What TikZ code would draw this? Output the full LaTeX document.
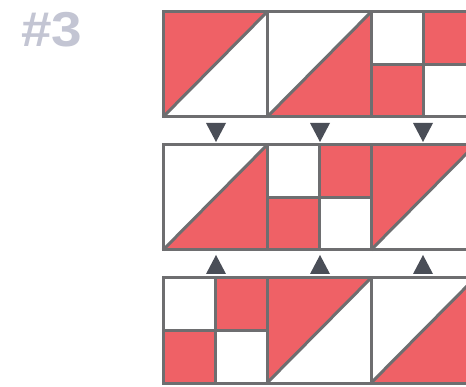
\documentclass[tikz,border=0pt]{standalone}
\usepackage{fontspec}
\setmainfont{Liberation Sans}
\definecolor{pred}{HTML}{EF6166}
\definecolor{pgray}{HTML}{6E6E70}
\definecolor{parrow}{HTML}{4A4E57}
\definecolor{ptext}{HTML}{C3C5D3}
\tikzset{
  redfill/.style={fill=pred},
  edge/.style={draw=pgray,line width=3pt,line join=miter},
  tri/.style={fill=parrow},
  ul/.pic={
    \fill[redfill] (0,0) -- (104,0) -- (0,105) -- cycle;
    \draw[edge] (0,0) rectangle (104,105);
    \draw[edge] (0,105) -- (104,0);
  },
  lr/.pic={
    \fill[redfill] (0,105) -- (104,0) -- (104,105) -- cycle;
    \draw[edge] (0,0) rectangle (104,105);
    \draw[edge] (0,105) -- (104,0);
  },
  four/.pic={
    \fill[redfill] (52,0) rectangle (104,52.5);
    \fill[redfill] (0,52.5) rectangle (52,105);
    \draw[edge] (0,0) rectangle (104,105);
    \draw[edge] (52,0) -- (52,105);
    \draw[edge] (0,52.5) -- (104,52.5);
  },
  downtri/.pic={\fill[tri] (-10,0) -- (10,0) -- (0,19) -- cycle;},
  uptri/.pic={\fill[tri] (-10,19) -- (10,19) -- (0,0) -- cycle;}
}
\begin{document}
\begin{tikzpicture}[x=1pt,y=-1pt]
\useasboundingbox (0,0) rectangle (466,387);
\fill[white] (0,0) rectangle (466,387);
\node[anchor=base west,inner sep=0pt,text=ptext,font=\fontsize{49}{49}\selectfont\bfseries,xscale=1.12] (title) at (21,47) {\#3};
\begin{scope}
\clip (0,0) rectangle (466,387);
% row 1
\pic at (163,12) {ul};
\pic at (267,12) {lr};
\pic at (371,12) {four};
% row 2
\pic at (163,145) {lr};
\pic at (267,145) {four};
\pic at (371,145) {ul};
% row 3
\pic at (163,278) {four};
\pic at (267,278) {ul};
\pic at (371,278) {lr};
\end{scope}
% arrows
\pic at (216,123) {downtri};
\pic at (320,123) {downtri};
\pic at (423,123) {downtri};
\pic at (216,255) {uptri};
\pic at (320,255) {uptri};
\pic at (423,255) {uptri};
\end{tikzpicture}
\end{document}
